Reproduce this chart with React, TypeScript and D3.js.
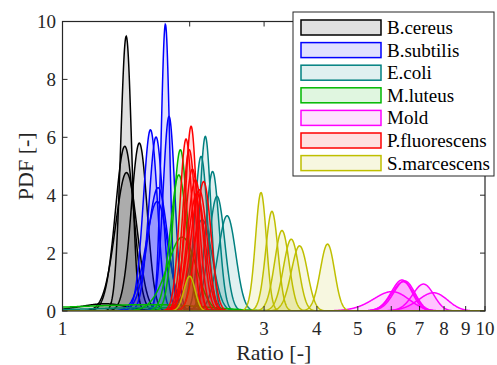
import React, { useEffect, useRef } from "react";
import * as d3 from "d3";

const W = 497, H = 365;

const species = ["B.cereus", "B.subtilis", "E.coli", "M.luteus", "Mold", "P.fluorescens", "S.marcescens"];
const lineColors = ["#000000", "#0000ff", "#008080", "#00b800", "#ff00ff", "#ff0000", "#bfbf00"];

// each curve: peak position (ratio), peak height (PDF), spread (std dev, ratio units)
const cereusCenter = [1.26, 1.404, 1.417, 1.415, 1.52];
const cereusHeight = [0.25, 5.69, 4.78, 9.49, 5.8];
const cereusSd = [0.16, 0.07, 0.083, 0.042, 0.066];

const subtilisCenter = [1.615, 1.665, 1.683, 1.675, 1.752, 1.787];
const subtilisHeight = [6.26, 6.01, 4.26, 3.78, 9.9, 6.72];
const subtilisSd = [0.062, 0.064, 0.09, 0.1, 0.04, 0.058];

const coliCenter = [1.6, 2.14, 2.128, 2.178, 2.266, 2.321, 2.452];
const coliHeight = [0.12, 3.15, 5.34, 6.03, 4.82, 3.96, 3.29];
const coliSd = [0.45, 0.12, 0.074, 0.066, 0.082, 0.1, 0.118];

const luteusCenter = [1.6, 1.92, 1.885, 1.901];
const luteusHeight = [0.22, 2.55, 4.7, 5.57];
const luteusSd = [0.6, 0.15, 0.084, 0.071];

const moldCenter = [6.02, 7.55, 7.15, 6.45, 6.4, 6.36];
const moldHeight = [0.67, 0.63, 0.93, 1.04, 1.01, 1.07];
const moldSd = [0.58, 0.6, 0.41, 0.37, 0.38, 0.36];

const fluorCenter = [2.08, 2.107, 2.158, 2.063, 2.03, 1.995, 1.961, 2.015];
const fluorHeight = [4.07, 4.19, 4.47, 4.53, 4.9, 5.57, 5.94, 6.38];
const fluorSd = [0.095, 0.092, 0.088, 0.086, 0.08, 0.07, 0.066, 0.062];

const marcCenter = [2.0, 2.95, 3.131, 3.307, 3.478, 3.64, 4.239];
const marcHeight = [1.2, 4.09, 3.44, 2.78, 2.48, 2.25, 2.31];
const marcSd = [0.06, 0.088, 0.105, 0.13, 0.145, 0.16, 0.165];

const centers = [cereusCenter, subtilisCenter, coliCenter, luteusCenter, moldCenter, fluorCenter, marcCenter];
const heights = [cereusHeight, subtilisHeight, coliHeight, luteusHeight, moldHeight, fluorHeight, marcHeight];
const sds = [cereusSd, subtilisSd, coliSd, luteusSd, moldSd, fluorSd, marcSd];

const xTicks = [1, 2, 3, 4, 5, 6, 7, 8, 9, 10];
const yTicks = [0, 2, 4, 6, 8, 10];

const FONT = '"Liberation Serif", "DejaVu Serif", serif';
const AX = "#262626";

export default function App() {
  const ref = useRef<SVGSVGElement>(null);

  useEffect(() => {
    const svg = d3.select(ref.current);
    svg.selectAll("*").remove();

    const left = 62.5, right = 485, top = 21.5, bottom = 311;
    const x = d3.scaleLog().domain([1, 10]).range([left, right]);
    const y = d3.scaleLinear().domain([0, 10]).range([bottom, top]);

    svg.append("rect").attr("width", W).attr("height", H).attr("fill", "#fff");
    svg.append("defs").append("clipPath").attr("id", "plotclip")
      .append("rect").attr("x", left).attr("y", top)
      .attr("width", right - left).attr("height", bottom - top);

    // sample grid for drawing the curves (log spaced across the axis)
    const grid = d3.range(0, 1201).map((i) => Math.pow(10, i / 1200));

    const area = d3.area<number[]>()
      .x((d) => x(d[0]))
      .y0(y(0))
      .y1((d) => y(d[1]));
    const line = d3.line<number[]>()
      .x((d) => x(d[0]))
      .y((d) => y(d[1]));

    const g = svg.append("g").attr("clip-path", "url(#plotclip)");
    species.forEach((name, s) => {
      centers[s].forEach((m, k) => {
        const h = heights[s][k], sd = sds[s][k];
        const pts = grid.map((v) => [v, h * Math.exp(-0.5 * ((v - m) / sd) ** 2)]);
        g.append("path").datum(pts)
          .attr("d", area)
          .attr("fill", lineColors[s])
          .attr("fill-opacity", 0.12);
        g.append("path").datum(pts)
          .attr("d", line)
          .attr("fill", "none")
          .attr("stroke", lineColors[s])
          .attr("stroke-width", 1.5);
      });
    });

    // axes box and inward ticks
    svg.append("rect")
      .attr("x", left).attr("y", top)
      .attr("width", right - left).attr("height", bottom - top)
      .attr("fill", "none").attr("stroke", AX).attr("stroke-width", 1.2);

    const tl = 5;
    xTicks.forEach((t) => {
      svg.append("line").attr("x1", x(t)).attr("x2", x(t)).attr("y1", bottom).attr("y2", bottom - tl)
        .attr("stroke", AX);
      svg.append("line").attr("x1", x(t)).attr("x2", x(t)).attr("y1", top).attr("y2", top + tl)
        .attr("stroke", AX);
      svg.append("text").attr("x", x(t)).attr("y", 335)
        .attr("text-anchor", "middle").style("font-family", FONT).style("font-size", "19px")
        .attr("fill", AX).text(t);
    });
    yTicks.forEach((t) => {
      svg.append("line").attr("x1", left).attr("x2", left + tl).attr("y1", y(t)).attr("y2", y(t))
        .attr("stroke", AX);
      svg.append("line").attr("x1", right).attr("x2", right - tl).attr("y1", y(t)).attr("y2", y(t))
        .attr("stroke", AX);
      svg.append("text").attr("x", 56).attr("y", y(t) + 6.5)
        .attr("text-anchor", "end").style("font-family", FONT).style("font-size", "19px")
        .attr("fill", AX).text(t);
    });

    // axis labels
    svg.append("text").attr("x", (left + right) / 2).attr("y", 360)
      .attr("text-anchor", "middle").style("font-family", FONT).style("font-size", "22px")
      .attr("fill", AX).text("Ratio [-]");
    svg.append("text")
      .attr("transform", `translate(33, ${(top + bottom) / 2}) rotate(-90)`)
      .attr("text-anchor", "middle").style("font-family", FONT).style("font-size", "22px")
      .attr("fill", AX).text("PDF [-]");

    // legend
    const lg = svg.append("g");
    lg.append("rect").attr("x", 293).attr("y", 12).attr("width", 201).attr("height", 164)
      .attr("fill", "#fff").attr("stroke", AX).attr("stroke-width", 1);
    species.forEach((name, s) => {
      const cy = 27.5 + s * 22.6;
      lg.append("rect").attr("x", 301).attr("y", cy - 7.5).attr("width", 80).attr("height", 15)
        .attr("fill", lineColors[s]).attr("fill-opacity", 0.12)
        .attr("stroke", lineColors[s]).attr("stroke-width", 1.5);
      lg.append("text").attr("x", 387).attr("y", cy + 6.5)
        .style("font-family", FONT).style("font-size", "19px").attr("fill", "#000").text(name);
    });
  }, []);

  return (
    <svg
      ref={ref}
      width={W}
      height={H}
      style={{ position: "absolute", left: 0, top: 0, display: "block" }}
    />
  );
}
